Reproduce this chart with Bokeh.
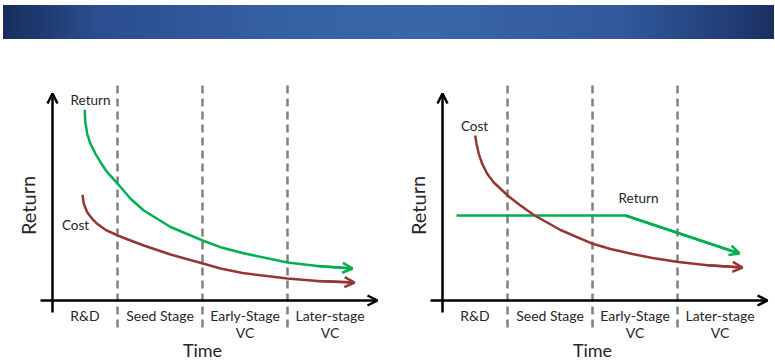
from bokeh.plotting import figure
from bokeh.models import Range1d, Arrow, OpenHead, Div, ColumnDataSource
from bokeh.layouts import column, row
from bokeh.embed import file_html
from bokeh.resources import INLINE
from bokeh.core.properties import value

# ---------------- data (conceptual units, origin at the axes' crossing) -------------
stage_line1 = ["R&D", "Seed Stage", "Early-Stage", "Later-stage"]
stage_line2 = ["", "", "VC", "VC"]
stage_edges = [0, 65, 150, 235, 320]          # stage boundaries along Time
dashed_edges = [65, 150, 235]
dashed_extent = [-27, 217]
x_axis_extent = [-12, 325]
y_axis_extent = [-12, 207]

# Left panel: Return and Cost both decline
left_return_x = [32.3, 32.6, 34.7, 38, 43, 48, 54.7, 65.3, 78, 91.3, 118, 151.3, 168, 190, 235, 265, 300]
left_return_y = [190.7, 180, 166.7, 156.7, 146.7, 138.3, 128.3, 116.7, 101.7, 90, 73.5, 59.5, 53.3, 47.5, 38, 34.5, 32]
left_cost_x = [30, 31.3, 34.7, 39.7, 44.7, 53, 65.3, 78, 91.3, 118, 151.3, 168, 190, 235, 265, 302]
left_cost_y = [105.7, 96.7, 88.3, 81.7, 76.7, 70.7, 65, 60, 55, 46, 36.7, 32, 27.5, 22, 19.5, 18]

# Right panel: Cost declines, Return flat then declines
right_cost_x = [32.7, 34, 36.3, 39.7, 44.7, 51.3, 66.3, 78, 91.3, 118, 150.3, 168, 190, 210, 236, 265, 300]
right_cost_y = [165, 156.7, 146.7, 136.7, 126.7, 118, 104, 95, 85.5, 70.5, 56.7, 51.5, 46.5, 42.5, 38.5, 35.3, 33]
right_return_x = [14, 183, 297]
right_return_y = [85, 85, 47]

GREEN = "#00B050"
RED = "#943634"
GRAY = "#808080"
TXT = "#262626"
FONT = "Lato"
FIG_H = 322


def make_panel(width, x_start, x_end, curves, labels):
    p = figure(width=width, height=FIG_H, x_range=Range1d(x_start, x_end),
               y_range=Range1d(-61, 261), output_backend="svg",
               toolbar_location=None, min_border=0, x_axis_type=None,
               y_axis_type=None, outline_line_color=None, margin=0)
    p.xgrid.visible = False
    p.ygrid.visible = False

    # dashed stage separators
    for xe in dashed_edges:
        p.line([xe, xe], dashed_extent, line_color=GRAY, line_width=2.5,
               line_dash="8 5")

    # axes with open arrowheads
    p.add_layout(Arrow(end=OpenHead(size=10, line_color="black", line_width=2.5),
                       x_start=x_axis_extent[0], y_start=0,
                       x_end=x_axis_extent[1], y_end=0,
                       line_color="black", line_width=2.5))
    p.add_layout(Arrow(end=OpenHead(size=10, line_color="black", line_width=2.5),
                       x_start=0, y_start=y_axis_extent[0],
                       x_end=0, y_end=y_axis_extent[1],
                       line_color="black", line_width=2.5))

    # curves
    for xs, ys, col in curves:
        p.line(xs, ys, line_color=col, line_width=2.5, line_join="round")
        p.add_layout(Arrow(end=OpenHead(size=10, line_color=col, line_width=2.5),
                           x_start=xs[-2], y_start=ys[-2], x_end=xs[-1], y_end=ys[-1],
                           line_color=col, line_width=2.5))

    # curve labels
    src = ColumnDataSource(dict(x=[l[0] for l in labels], y=[l[1] for l in labels],
                                t=[l[2] for l in labels]))
    p.text("x", "y", text="t", source=src, text_font=value(FONT),
           text_font_size="13.5px", text_align="center", text_baseline="middle",
           text_color=TXT)

    # stage labels
    mids = [(stage_edges[i] + stage_edges[i + 1]) / 2 for i in range(4)]
    p.text(mids, [-15] * 4, text=stage_line1, text_font=value(FONT),
           text_font_size="14px", text_align="center", text_baseline="middle",
           text_color=TXT)
    p.text(mids, [-32] * 4, text=stage_line2, text_font=value(FONT),
           text_font_size="14px", text_align="center", text_baseline="middle",
           text_color=TXT)

    # axis titles
    p.text([150], [-49], text=["Time"], text_font=value(FONT),
           text_font_size="18px", text_align="center", text_baseline="middle",
           text_color=TXT)
    p.text([-25], [95], text=["Return"], text_font=value(FONT),
           text_font_size="20px", text_align="center", text_baseline="middle",
           text_color=TXT, angle=1.5708)
    return p


p1 = make_panel(390, -52, 338,
                [(left_return_x, left_return_y, GREEN), (left_cost_x, left_cost_y, RED)],
                [(38, 201, "Return"), (23, 76, "Cost")])
p2 = make_panel(384, -52, 332,
                [(right_return_x, right_return_y, GREEN), (right_cost_x, right_cost_y, RED)],
                [(196, 103, "Return"), (32, 175, "Cost")])

banner = Div(text=('<div style="width:771px;height:34px;'
                   'background:linear-gradient(to right,#182d5c 0%,#2a4d8e 12%,'
                   '#3560a3 35%,#3a66a8 55%,#31599c 80%,#233f7a 93%,#1a2f5e 100%);"></div>'),
             width=771, height=34, margin=(5, 1, 0, 3))

layout = column(row(banner, margin=0), row(p1, p2, margin=0), margin=0)
open("out.html", "w").write(file_html(layout, INLINE))
